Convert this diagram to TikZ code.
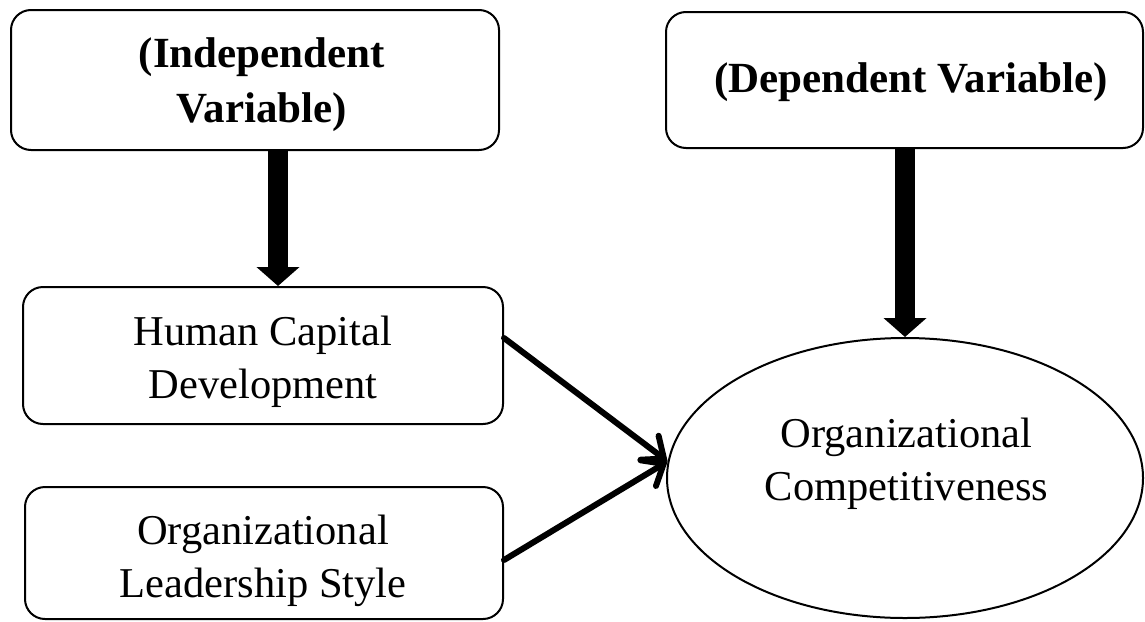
\documentclass[tikz,border=0pt]{standalone}
\usepackage{fontspec}
\setmainfont{Liberation Serif}
\usetikzlibrary{arrows.meta,shapes.geometric,calc}
\begin{document}
\begin{tikzpicture}[x=1pt,y=-1pt,
  box/.style={draw, rounded corners=20pt, line width=2pt, inner sep=0pt},
  txt/.style={align=center, inner sep=0pt, font=\fontsize{42.5}{53}\selectfont},
  btxt/.style={align=center, inner sep=0pt, font=\fontsize{43}{55}\selectfont\bfseries},
  bigarrow/.style={line width=20pt, -{Triangle[length=19pt,width=42pt]}},
  thinarrow/.style={line width=6pt, line cap=round, -{Straight Barb[length=18pt,width=30pt,line cap=round]}}]
\useasboundingbox (0,0) rectangle (1145,621);
% boxes
\node[box, minimum width=488pt, minimum height=140pt] (iv) at (255,80) {};
\node[box, minimum width=477pt, minimum height=136pt] (dv) at (904.5,80) {};
\node[box, minimum width=480pt, minimum height=137pt] (hcd) at (263,355.5) {};
\node[box, minimum width=478pt, minimum height=132pt] (ols) at (264,553) {};
\node[draw, ellipse, line width=2pt, inner sep=0pt, minimum width=476pt, minimum height=280pt] (oc) at (905,478) {};
% texts
\node[btxt] (ivt) at (262,85) {(Independent\\Variable)};
\node[btxt] (dvt) at (911,82) {(Dependent Variable)};
\node[txt] (hcdt) at (263,362) {Human Capital\\Development};
\node[txt] (olst) at (263,560.5) {Organizational\\Leadership Style};
\node[txt] (oct) at (906.5,464) {Organizational\\Competitiveness};
% connectors
\draw[bigarrow] (278,0 |- iv.south) -- (278,0 |- hcd.north);
\draw[bigarrow] (oc.north |- dv.south) -- (oc.north);
\draw[thinarrow] (hcd.east |- 0,338) -- (oc.176);
\draw[thinarrow] (ols.east |- 0,560) -- (oc.176);
\end{tikzpicture}
\end{document}
